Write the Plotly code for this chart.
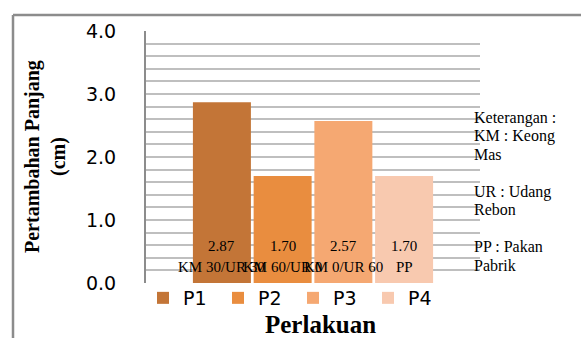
import plotly.graph_objects as go

# Treatments, their labels and the measured length increase (cm)
series = ["P1", "P2", "P3", "P4"]
treatments = ["KM 30/UR 30", "KM 60/UR 0", "KM 0/UR 60", "PP"]
growth_cm = [2.87, 1.70, 2.57, 1.70]
colors = ["#C37537", "#E98D3F", "#F5A872", "#F8C9AF"]
notes = ["Keterangan :", "KM : Keong", "Mas", "", "UR : Udang", "Rebon", "",
         "PP : Pakan", "Pabrik"]
y_ticks = [0, 1, 2, 3, 4]

W, H = 581, 338
L, R, T, B = 146, 101, 31, 55
plot_w, plot_h = W - L - R, H - T - B


def px_x(px):
    return (px - L) / plot_w


def px_y(py):
    return (H - B - py) / plot_h


fig = go.Figure()
for i, (name, val, col) in enumerate(zip(series, growth_cm, colors)):
    fig.add_trace(go.Bar(
        x=[i], y=[val], name=name, width=0.955,
        marker=dict(color=col, line=dict(width=0)),
        hoverinfo="skip",
    ))

annotations = []
serif = "Liberation Serif, Times New Roman, serif"
for i, (val, lab) in enumerate(zip(growth_cm, treatments)):
    annotations.append(dict(x=i, y=0, xref="x", yref="y", text=f"{val:.2f}",
                            showarrow=False, yanchor="bottom", yshift=27,
                            font=dict(family=serif, size=15, color="#000")))
    annotations.append(dict(x=i, y=0, xref="x", yref="y", text=lab,
                            showarrow=False, yanchor="bottom", yshift=6,
                            font=dict(family=serif, size=15, color="#000")))

# Explanatory note on the right
pitch = 18.4
for k, line in enumerate(notes):
    if not line:
        continue
    annotations.append(dict(x=px_x(472), y=px_y(118 + k * pitch), xref="paper", yref="paper",
                            text=line, showarrow=False, xanchor="left", yanchor="middle",
                            font=dict(family=serif, size=16, color="#000")))

# Axis titles
annotations.append(dict(x=px_x(45), y=px_y(157), xref="paper", yref="paper",
                        text="<b>Pertambahan Panjang<br>(cm)</b>", textangle=-90,
                        showarrow=False, xanchor="center", yanchor="middle",
                        font=dict(family=serif, size=20, color="#000")))
annotations.append(dict(x=px_x(320), y=px_y(324), xref="paper", yref="paper",
                        text="<b>Perlakuan</b>", showarrow=False,
                        xanchor="center", yanchor="middle",
                        font=dict(family=serif, size=25, color="#000")))

# Outer frame (top and left edges)
shapes = [
    dict(type="line", xref="paper", yref="paper", x0=px_x(13), x1=px_x(600),
         y0=px_y(15), y1=px_y(15), line=dict(color="#8C8C8C", width=2.5)),
    dict(type="line", xref="paper", yref="paper", x0=px_x(13), x1=px_x(13),
         y0=px_y(15), y1=px_y(360), line=dict(color="#8C8C8C", width=2.5)),
]

fig.update_layout(
    width=W, height=H,
    margin=dict(l=L, r=R, t=T, b=B),
    paper_bgcolor="white", plot_bgcolor="white",
    barmode="overlay",
    showlegend=True,
    legend=dict(orientation="h", x=px_x(143), y=px_y(298), xanchor="left", yanchor="middle",
                font=dict(family="DejaVu Sans", size=19, color="#000"),
                entrywidth=30, entrywidthmode="pixels", itemclick=False,
                bgcolor="rgba(0,0,0,0)"),
    xaxis=dict(range=[-1.25, 4.25], visible=False, fixedrange=True),
    yaxis=dict(range=[0, 4], tickvals=y_ticks, tickformat=".1f",
               ticklabelstandoff=24,
               showgrid=True, gridcolor="#BFBFBF", gridwidth=1.5,
               minor=dict(dtick=0.2, showgrid=True, gridcolor="#BFBFBF", gridwidth=1.5),
               showline=True, linecolor="#8C8C8C", linewidth=2,
               zeroline=False, ticks="",
               tickfont=dict(family="DejaVu Sans", size=19, color="#000")),
    annotations=annotations,
    shapes=shapes,
)

fig.write_html("out.html")
